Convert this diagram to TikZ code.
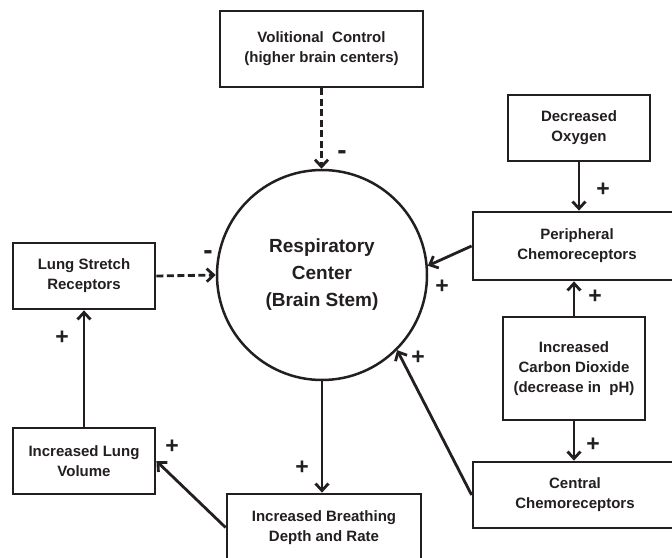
\documentclass[tikz,border=0pt]{standalone}
\usepackage{fontspec}
\setmainfont{Liberation Sans}
\usetikzlibrary{arrows.meta}
\definecolor{ink}{HTML}{231F20}
\tikzset{
  box/.style={draw=ink, line width=2.8pt, rectangle, inner sep=0pt, align=center,
    font=\fontsize{15}{20}\selectfont\bfseries, text=ink},
  hub/.style={draw=ink, line width=2.5pt, circle, minimum size=210pt, inner sep=0pt,
    align=center, font=\fontsize{19}{27}\selectfont\bfseries, text=ink},
  conn/.style={draw=ink, line width=2.8pt, -{Straight Barb[length=7pt,width=13pt,line width=2.8pt]}},
  inhib/.style={conn, dash pattern=on 7pt off 3.5pt},
  sign/.style={text=ink, font=\fontsize{23}{23}\selectfont\bfseries, inner sep=0pt},
  minus/.style={text=ink, font=\fontsize{28}{28}\selectfont\bfseries, inner sep=0pt}
}
\begin{document}
\begin{tikzpicture}[x=1pt,y=-1pt]
\useasboundingbox (0,0) rectangle (672,557);
\clip (0,0) rectangle (672,557);
\fill[white] (0,0) rectangle (672,557);
\node[box, minimum width=203pt, minimum height=76pt] (vol) at (321.5,49) {Volitional\ \ Control\\(higher brain centers)};
\node[box, minimum width=142pt, minimum height=66pt] (oxy) at (579,128) {Decreased\\Oxygen};
\node[box, minimum width=208pt, minimum height=68pt] (peri) at (577,246) {Peripheral\\Chemoreceptors};
\node[box, minimum width=142pt, minimum height=103pt] (co2) at (574,368.5) {Increased\\Carbon Dioxide\\(decrease in\ \ pH)};
\node[box, minimum width=204pt, minimum height=66pt] (cen) at (575,495) {Central\\Chemoreceptors};
\node[box, minimum width=142pt, minimum height=66pt] (lsr) at (84,276) {Lung Stretch\\Receptors};
\node[box, minimum width=142pt, minimum height=66pt] (lv) at (84,461) {Increased Lung\\Volume};
\node[box, minimum width=194pt, minimum height=67pt] (br) at (324,527.5) {Increased Breathing\\Depth and Rate};
\node[hub] (rc) at (322,275) {Respiratory\\Center\\(Brain Stem)};

\draw[inhib] (vol.south) -- (vol.south |- rc.north);
\draw[inhib] (lsr.east) -- (rc.west);
\draw[conn] (oxy.south) -- (oxy.south |- peri.north);
\draw[conn] (co2.north) -- (co2.north |- peri.south);
\draw[conn] (co2.south) -- (co2.south |- cen.north);
\draw[conn] (peri.west) -- (rc.5);
\draw[conn] (cen.west) -- (rc.-45);
\draw[conn] (rc.south) -- (rc.south |- br.north);
\draw[conn] (br.west) -- (lv.east);
\draw[conn] (lv.north) -- (lsr.south);

\node[minus] (s1) at (342,155) {-};
\node[minus] (s2) at (208,255) {-};
\node[sign] (s3) at (603,190) {+};
\node[sign] (s4) at (442,287) {+};
\node[sign] (s5) at (595,297) {+};
\node[sign] (s6) at (593,445) {+};
\node[sign] (s7) at (418,358) {+};
\node[sign] (s8) at (302,468) {+};
\node[sign] (s9) at (172,447) {+};
\node[sign] (s10) at (62,338) {+};
\end{tikzpicture}
\end{document}
